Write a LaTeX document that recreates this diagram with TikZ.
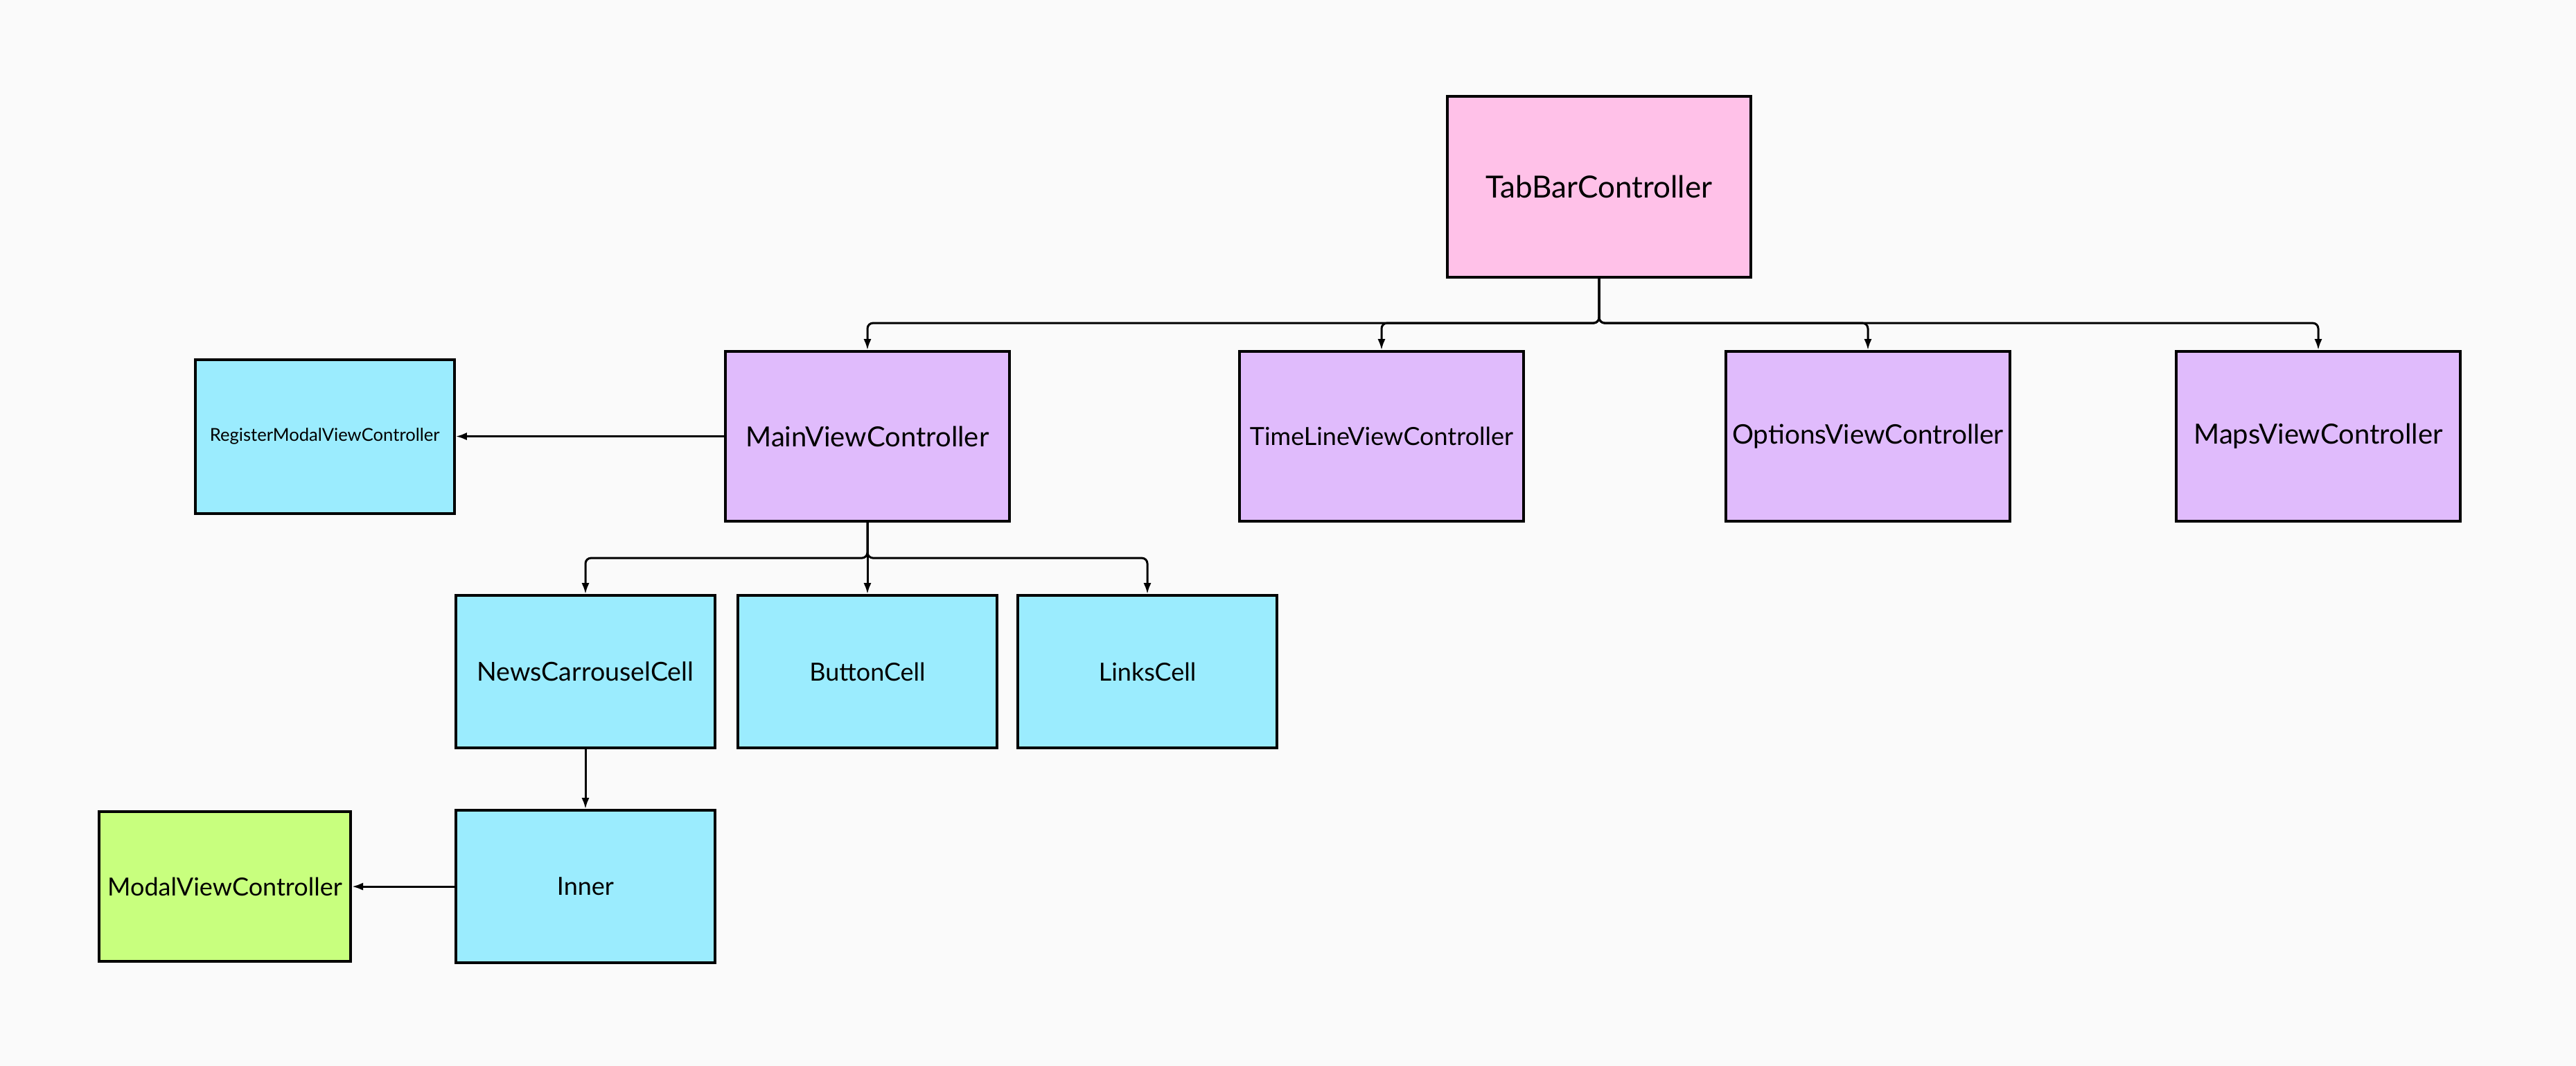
\documentclass[tikz,border=0pt]{standalone}
\usepackage{fontspec}
\setmainfont{Lato}
\usepackage{tikz}
\usetikzlibrary{arrows.meta,positioning}
\definecolor{bg}{RGB}{250,250,250}
\definecolor{tabpink}{RGB}{255,193,232}
\definecolor{ctrlpurple}{RGB}{224,187,252}
\definecolor{cellcyan}{RGB}{155,236,254}
\definecolor{modalgreen}{RGB}{200,255,126}
\tikzstyle{box} = [rectangle, draw=black, line width=1pt, text=black, inner sep=0pt, align=center]
\tikzstyle{tab} = [box, fill=tabpink, minimum width=109.5pt, minimum height=65.25pt, font=\fontsize{11}{13}\selectfont]
\tikzstyle{ctrl} = [box, fill=ctrlpurple, minimum width=102.5pt, minimum height=61.25pt, font=\fontsize{10}{12}\selectfont]
\tikzstyle{cell} = [box, fill=cellcyan, minimum width=93.5pt, minimum height=55pt, font=\fontsize{9}{11}\selectfont]
\tikzstyle{modal} = [box, fill=modalgreen, minimum width=90.75pt, minimum height=54pt, font=\fontsize{9}{11}\selectfont]
\tikzstyle{tedge} = [draw, line width=0.75pt, -{Latex[length=4pt,width=2.8pt]}, rounded corners=2pt]

\begin{document}
\begin{tikzpicture}

\fill[bg] (0,0) rectangle (929.5pt,-384.5pt);

% tab bar ==============================
\node[tab] (tabbar) at (577pt,-67.4pt) {TabBarController};

% view controllers
\node[ctrl, below left=25.75pt and 157pt of tabbar] (main) {MainViewController};
\node[ctrl, right=82pt of main, font=\fontsize{9}{11}\selectfont] (timeline) {TimeLineViewController};
\node[ctrl, right=72pt of timeline, font=\fontsize{9.7}{11}\selectfont] (options) {OptionsViewController};
\node[ctrl, right=59pt of options] (maps) {MapsViewController};
\node[cell, left=96.8pt of main, minimum height=55.5pt, font=\fontsize{6.4}{7}\selectfont] (register) {RegisterModalViewController};

% cells
\node[cell, below=25.75pt of main] (button) {ButtonCell};
\node[cell, left=7.25pt of button, font=\fontsize{9.4}{11}\selectfont] (news) {NewsCarrouselCell};
\node[cell, right=6.5pt of button] (links) {LinksCell};
\node[cell, below=21.5pt of news] (inner) {Inner};
\node[modal, left=37pt of inner] (modalvc) {ModalViewController};

%edges
\path[tedge] (tabbar.south) -- ++(0,-16pt) -| (main.north);
\path[tedge] (tabbar.south) -- ++(0,-16pt) -| (timeline.north);
\path[tedge] (tabbar.south) -- ++(0,-16pt) -| (options.north);
\path[tedge] (tabbar.south) -- ++(0,-16pt) -| (maps.north);
\path[tedge] (main.west) -- (register.east);

\path[tedge] (main.south) -- ++(0,-12.75pt) -| (news.north);
\path[tedge] (main.south) -- (button.north);
\path[tedge] (main.south) -- ++(0,-12.75pt) -| (links.north);
\path[tedge] (news.south) -- (inner.north);
\path[tedge] (inner.west) -- (modalvc.east);

\end{tikzpicture}
\end{document}
